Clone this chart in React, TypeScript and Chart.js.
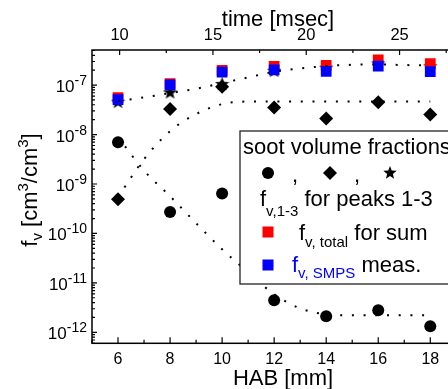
import React, { useEffect, useRef } from "react";
import { Chart, registerables } from "chart.js";

Chart.register(...registerables);

const FONT = '"Liberation Sans", Arial, Helvetica, sans-serif';

// ---- data ----
const habValues = [6, 8, 10, 12, 14, 16, 18];
const peak1Values = [6.95e-9, 2.72e-10, 6.43e-10, 4.45e-12, 2.11e-12, 2.79e-12, 1.32e-12];
const peak2Values = [4.92e-10, 3.27e-8, 9.24e-8, 3.54e-8, 2.12e-8, 4.47e-8, 2.55e-8];
const peak3Values = [4.7e-8, 7.3e-8, 1.07e-7, 2.0e-7, 2.3e-7, 2.8e-7, 2.45e-7];
const totalValues = [5.55e-8, 1.07e-7, 1.99e-7, 2.39e-7, 2.51e-7, 3.25e-7, 2.7e-7];
const smpsValues = [5.08e-8, 1.01e-7, 1.83e-7, 2.04e-7, 1.89e-7, 2.43e-7, 1.86e-7];

const fitHab = [6, 7, 8, 9, 10, 11, 12, 13, 14, 15, 16, 17, 18];
const fitPeak1 = [8.86e-9, 1.86e-9, 5.66e-10, 1.61e-10, 4.78e-11, 1.64e-11, 5.88e-12, 3.06e-12, 2.31e-12, 2.21e-12, 2.21e-12, 2.21e-12, 2.21e-12];
const fitPeak2 = [5.41e-10, 3.18e-9, 1.17e-8, 2.59e-8, 4.12e-8, 4.64e-8, 4.64e-8, 4.64e-8, 4.64e-8, 4.64e-8, 4.64e-8, 4.64e-8, 4.64e-8];
const fitTotal = [4.74e-8, 5.64e-8, 6.89e-8, 8.41e-8, 1.1e-7, 1.43e-7, 1.86e-7, 2.16e-7, 2.43e-7, 2.57e-7, 2.61e-7, 2.54e-7, 2.51e-7];

// ---- ticks ----
const habMajorTicks = [6, 8, 10, 12, 14, 16, 18];
const habMinorTicks = [5, 7, 9, 11, 13, 15, 17, 19];
const timeMajorTicks = [10, 15, 20, 25];
const timeMinorTicks = [12.5, 17.5, 22.5, 27.5];
const yDecadeExponents = [-12, -11, -10, -9, -8, -7];

const HAB_MIN = 5;
const HAB_MAX = 19;
const TIME_MIN = 8.52;
const TIME_MAX = 28.04;
const Y_MIN = 6e-13;
const Y_MAX = 5.12e-7;

type Part = { t: string; size: number; dy?: number; color?: string };

function richWidth(ctx: CanvasRenderingContext2D, parts: Part[]) {
  let w = 0;
  for (const p of parts) {
    ctx.font = `${p.size}px ${FONT}`;
    w += ctx.measureText(p.t).width;
  }
  return w;
}

function drawRich(ctx: CanvasRenderingContext2D, parts: Part[], x: number, y: number, align: "left" | "center" | "right") {
  const w = richWidth(ctx, parts);
  let cx = align === "left" ? x : align === "center" ? x - w / 2 : x - w;
  ctx.textAlign = "left";
  ctx.textBaseline = "alphabetic";
  for (const p of parts) {
    ctx.font = `${p.size}px ${FONT}`;
    ctx.fillStyle = p.color || "#000";
    ctx.fillText(p.t, cx, y + (p.dy || 0));
    cx += ctx.measureText(p.t).width;
  }
}

function makeStar(size: number) {
  const c = document.createElement("canvas");
  c.width = size;
  c.height = size;
  const g = c.getContext("2d")!;
  drawStarPath(g, size / 2, size / 2 + 0.8, size / 2, size / 2 * 0.42);
  g.fillStyle = "#000";
  g.fill();
  return c;
}

function drawStarPath(g: CanvasRenderingContext2D, cx: number, cy: number, R: number, r: number) {
  g.beginPath();
  for (let i = 0; i < 10; i++) {
    const ang = -Math.PI / 2 + (i * Math.PI) / 5;
    const rad = i % 2 === 0 ? R : r;
    const px = cx + rad * Math.cos(ang);
    const py = cy + rad * Math.sin(ang);
    if (i === 0) g.moveTo(px, py);
    else g.lineTo(px, py);
  }
  g.closePath();
}

const pts = (xs: number[], ys: number[]) => xs.map((x, i) => ({ x, y: ys[i] }));

const framePlugin = {
  id: "frame",
  afterDraw(chart: any) {
    const { ctx, chartArea: a, scales } = chart;
    const xs = scales.x;
    const xt = scales.x2;
    const ys = scales.y;
    ctx.save();

    // axes frame
    ctx.strokeStyle = "#000";
    ctx.lineWidth = 1.5;
    ctx.strokeRect(a.left, a.top, a.right - a.left, a.bottom - a.top);

    ctx.lineWidth = 1.2;
    ctx.beginPath();
    // bottom axis ticks (inward)
    for (const v of habMajorTicks) {
      const x = xs.getPixelForValue(v);
      ctx.moveTo(x, a.bottom);
      ctx.lineTo(x, a.bottom - 6);
    }
    for (const v of habMinorTicks) {
      const x = xs.getPixelForValue(v);
      ctx.moveTo(x, a.bottom);
      ctx.lineTo(x, a.bottom - 3.5);
    }
    // top axis ticks (inward)
    for (const v of timeMajorTicks) {
      const x = xt.getPixelForValue(v);
      ctx.moveTo(x, a.top);
      ctx.lineTo(x, a.top + 5);
    }
    for (const v of timeMinorTicks) {
      const x = xt.getPixelForValue(v);
      ctx.moveTo(x, a.top);
      ctx.lineTo(x, a.top + 3);
    }
    // left axis ticks (inward)
    for (const e of yDecadeExponents) {
      const y = ys.getPixelForValue(Math.pow(10, e));
      ctx.moveTo(a.left, y);
      ctx.lineTo(a.left + 5, y);
      ctx.moveTo(a.right, y);
      ctx.lineTo(a.right - 5, y);
    }
    for (let e = -13; e <= -7; e++) {
      for (let m = 2; m <= 9; m++) {
        const v = m * Math.pow(10, e);
        if (v < Y_MIN || v > Y_MAX) continue;
        const y = ys.getPixelForValue(v);
        ctx.moveTo(a.left, y);
        ctx.lineTo(a.left + 3, y);
        ctx.moveTo(a.right, y);
        ctx.lineTo(a.right - 3, y);
      }
    }
    ctx.stroke();

    // tick labels
    for (const v of habMajorTicks) {
      drawRich(ctx, [{ t: String(v), size: 16 }], xs.getPixelForValue(v), a.bottom + 21, "center");
    }
    for (const v of timeMajorTicks) {
      drawRich(ctx, [{ t: String(v), size: 16.5 }], xt.getPixelForValue(v), a.top - 10, "center");
    }
    for (const e of yDecadeExponents) {
      const y = ys.getPixelForValue(Math.pow(10, e));
      drawRich(
        ctx,
        [
          { t: "10", size: 17 },
          { t: String(e), size: 14, dy: -7 },
        ],
        a.left - 5,
        y + 7,
        "right"
      );
    }

    // axis titles
    drawRich(ctx, [{ t: "time [msec]", size: 22 }], 278, 26, "center");
    drawRich(ctx, [{ t: "HAB [mm]", size: 22 }], 283, 385, "center");
    ctx.save();
    ctx.translate(37, 190);
    ctx.rotate(-Math.PI / 2);
    drawRich(
      ctx,
      [
        { t: "f", size: 22 },
        { t: "v", size: 15, dy: 5 },
        { t: " [cm", size: 22 },
        { t: "3", size: 15, dy: -9 },
        { t: "/cm", size: 22 },
        { t: "3", size: 15, dy: -9 },
        { t: "]", size: 22 },
      ],
      0,
      0,
      "center"
    );
    ctx.restore();

    // legend box
    const lx = 240;
    const ly = 131;
    ctx.fillStyle = "#fff";
    ctx.fillRect(lx, ly, 480 - lx, 284 - ly);
    ctx.strokeStyle = "#222";
    ctx.lineWidth = 1.3;
    ctx.strokeRect(lx, ly, 480 - lx, 284 - ly);

    drawRich(ctx, [{ t: "soot volume fractions", size: 22 }], 243, 154, "left");
    // symbol row
    ctx.fillStyle = "#000";
    ctx.beginPath();
    ctx.arc(268, 173, 6, 0, Math.PI * 2);
    ctx.fill();
    drawRich(ctx, [{ t: ",", size: 22 }], 292, 182, "left");
    ctx.beginPath();
    ctx.moveTo(330 - 7, 173);
    ctx.lineTo(330, 166);
    ctx.lineTo(330 + 7, 173);
    ctx.lineTo(330, 180);
    ctx.closePath();
    ctx.fill();
    drawRich(ctx, [{ t: ",", size: 22 }], 354, 182, "left");
    drawStarPath(ctx, 390, 173, 7, 3);
    ctx.fill();

    drawRich(
      ctx,
      [
        { t: "f", size: 22 },
        { t: "v,1-3", size: 15, dy: 10 },
        { t: " for peaks 1-3", size: 22 },
      ],
      260,
      206,
      "left"
    );
    ctx.fillStyle = "#ff0000";
    ctx.fillRect(268 - 5.5, 232 - 5.5, 11, 11);
    drawRich(
      ctx,
      [
        { t: "f", size: 22 },
        { t: "v, total", size: 15, dy: 7 },
        { t: " for sum", size: 22 },
      ],
      299,
      240,
      "left"
    );
    ctx.fillStyle = "#0000ff";
    ctx.fillRect(268 - 5.5, 265 - 5.5, 11, 11);
    drawRich(
      ctx,
      [
        { t: "f", size: 22, color: "#0000ff" },
        { t: "v, SMPS", size: 15, dy: 6, color: "#0000ff" },
        { t: " meas.", size: 22 },
      ],
      292,
      272,
      "left"
    );

    ctx.restore();
  },
};

export default function App() {
  const ref = useRef<HTMLCanvasElement>(null);

  useEffect(() => {
    const canvas = ref.current;
    if (!canvas) return;
    const star = makeStar(15);
    const dotted = {
      showLine: true,
      borderColor: "#000",
      borderWidth: 2,
      borderDash: [2, 9.7],
      pointRadius: 0,
      fill: false,
      cubicInterpolationMode: "monotone" as const,
    };
    const chart = new Chart(canvas, {
      type: "scatter",
      data: {
        datasets: [
          { label: "fit total", data: pts(fitHab, fitTotal), ...dotted },
          { label: "fit peak 2", data: pts(fitHab, fitPeak2), ...dotted },
          { label: "fit peak 1", data: pts(fitHab, fitPeak1), ...dotted },
          {
            label: "fv, SMPS meas.",
            data: pts(habValues, smpsValues),
            pointStyle: "rect",
            pointRadius: 7.6,
            backgroundColor: "#0000ff",
            borderWidth: 0,
          },
          {
            label: "fv, total for sum",
            data: pts(habValues, totalValues),
            pointStyle: "rect",
            pointRadius: 7.6,
            backgroundColor: "#ff0000",
            borderWidth: 0,
          },
          {
            label: "peak 2",
            data: pts(habValues, peak2Values),
            pointStyle: "rectRot",
            pointRadius: 7,
            backgroundColor: "#000",
            borderWidth: 0,
          },
          {
            label: "peak 3",
            data: pts(habValues, peak3Values),
            pointStyle: star as any,
            pointRadius: 7,
            backgroundColor: "#000",
            borderWidth: 0,
          },
          {
            label: "peak 1",
            data: pts(habValues, peak1Values),
            pointStyle: "circle",
            pointRadius: 6,
            backgroundColor: "#000",
            borderWidth: 0,
          },
        ],
      },
      options: {
        animation: false,
        responsive: false,
        devicePixelRatio: 1,
        events: [],
        layout: { padding: { left: 92, top: 50, right: 13.7, bottom: 45.7 } },
        plugins: { legend: { display: false }, tooltip: { enabled: false } },
        scales: {
          x: { type: "linear", min: HAB_MIN, max: HAB_MAX, display: false },
          x2: { type: "linear", position: "top", min: TIME_MIN, max: TIME_MAX, display: false },
          y: { type: "logarithmic", min: Y_MIN, max: Y_MAX, display: false },
        },
      },
      plugins: [framePlugin],
    });
    return () => chart.destroy();
  }, []);

  return (
    <div
      style={{
        position: "fixed",
        left: 0,
        top: 0,
        width: 448,
        height: 389,
        overflow: "hidden",
        background: "#fff",
      }}
    >
      <div style={{ width: 470, height: 389 }}>
        <canvas ref={ref} width={470} height={389} style={{ display: "block", width: 470, height: 389 }} />
      </div>
    </div>
  );
}
